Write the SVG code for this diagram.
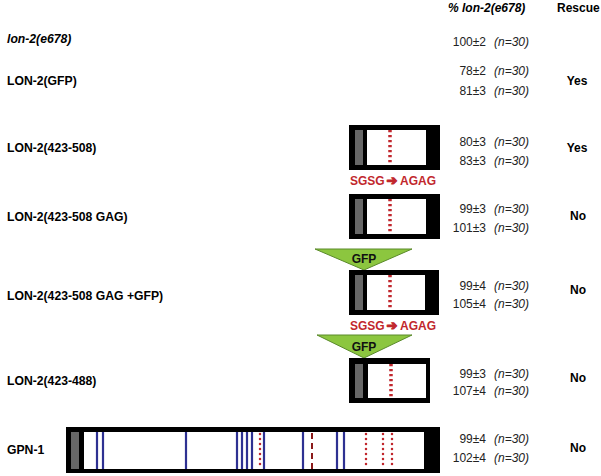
<svg xmlns="http://www.w3.org/2000/svg" width="601" height="476" viewBox="0 0 601 476">
<style>
text{font-family:"Liberation Sans",Arial,sans-serif;fill:#000}
.lab{font-size:12.2px;font-weight:bold}
.hd{font-size:12px;font-weight:bold}
.num{font-size:12px;text-anchor:end;fill:#222}
.n{font-size:12px;font-style:italic;fill:#222}
.res{font-size:12px;font-weight:bold;text-anchor:middle}
.mut{font-size:12px;font-weight:bold;fill:#c1272d}
.arr{font-family:"DejaVu Sans",sans-serif;font-weight:bold;font-size:13px;fill:#c1272d;stroke:#c1272d;stroke-width:1.1;stroke-linejoin:round}
.gfp{font-size:12px;font-weight:bold;text-anchor:middle;fill:#111}
.frame{fill:#000}
.inner{fill:#fff}
.gray{fill:#676767}
.rdash{stroke:#c1272d;stroke-width:3.5;stroke-dasharray:2.2 2.8;fill:none}
.rdot{stroke:#c1272d;stroke-width:2.5;stroke-linecap:round;stroke-dasharray:0 5;fill:none}
.blue{stroke:#2e3192;stroke-width:2.2;fill:none}
.brown{stroke:#8b1a1a;stroke-width:2;stroke-dasharray:6 4;fill:none}
.tri{fill:#8cc63f;stroke:#5a8a2a;stroke-width:1}
</style>

<g id="header">
<text class="hd" x="448" y="12" font-style="italic">% lon-2(e678)</text>
<text class="hd" x="557" y="12">Rescue</text>
</g>

<g id="row-e678">
<text class="lab" x="7" y="43" font-style="italic">lon-2(e678)</text>
<text class="num" x="486" y="46">100±2</text><text class="n" x="494" y="46">(n=30)</text>
</g>

<g id="row-gfp">
<text class="lab" x="7" y="85">LON-2(GFP)</text>
<text class="num" x="486" y="75">78±2</text><text class="n" x="494" y="75">(n=30)</text>
<text class="num" x="486" y="95">81±3</text><text class="n" x="494" y="95">(n=30)</text>
<text class="res" x="577" y="85">Yes</text>
</g>

<g id="row-423-508">
<text class="lab" x="7" y="152">LON-2(423-508)</text>
<rect class="frame" x="349" y="125" width="91" height="45"/>
<rect class="inner" x="367" y="130" width="59" height="35"/>
<rect class="gray" x="355" y="130" width="8" height="35"/>
<line class="rdash" x1="390" y1="130" x2="390" y2="165"/>
<text class="num" x="486" y="146">80±3</text><text class="n" x="494" y="146">(n=30)</text>
<text class="num" x="486" y="165">83±3</text><text class="n" x="494" y="165">(n=30)</text>
<text class="res" x="577" y="152">Yes</text>
<text class="mut" x="350" y="185">SGSG<tspan class="arr" x="386.5">➔</tspan><tspan x="400">AGAG</tspan></text>
</g>

<g id="row-gag">
<text class="lab" x="7" y="221">LON-2(423-508 GAG)</text>
<rect class="frame" x="349" y="194" width="91" height="45"/>
<rect class="inner" x="367" y="199" width="59" height="35"/>
<rect class="gray" x="355" y="199" width="8" height="35"/>
<line class="rdash" x1="390" y1="199" x2="390" y2="234"/>
<text class="num" x="486" y="213">99±3</text><text class="n" x="494" y="213">(n=30)</text>
<text class="num" x="486" y="232">101±3</text><text class="n" x="494" y="232">(n=30)</text>
<text class="res" x="578" y="220">No</text>
</g>

<g id="row-gag-gfp">
<text class="lab" x="7" y="300">LON-2(423-508 GAG +GFP)</text>
<polygon class="tri" points="315,249 412,249 364,270"/>
<text class="gfp" x="364" y="263">GFP</text>
<rect class="frame" x="349" y="270" width="90" height="45"/>
<rect class="inner" x="367" y="275" width="58" height="35"/>
<rect class="gray" x="355" y="275" width="8" height="35"/>
<line class="rdash" x1="390" y1="275" x2="390" y2="310"/>
<text class="num" x="486" y="290">99±4</text><text class="n" x="494" y="290">(n=30)</text>
<text class="num" x="486" y="308">105±4</text><text class="n" x="494" y="308">(n=30)</text>
<text class="res" x="578" y="294">No</text>
<text class="mut" x="350" y="330">SGSG<tspan class="arr" x="386.5">➔</tspan><tspan x="400">AGAG</tspan></text>
</g>

<g id="row-423-488">
<text class="lab" x="7" y="385">LON-2(423-488)</text>
<polygon class="tri" points="317,335 412,335 364,358"/>
<text class="gfp" x="364" y="351">GFP</text>
<rect class="frame" x="349" y="358" width="81" height="45"/>
<rect class="inner" x="368" y="364" width="58" height="34"/>
<rect class="gray" x="355" y="364" width="8" height="34"/>
<line class="rdash" x1="391" y1="364" x2="391" y2="398"/>
<text class="num" x="486" y="378">99±3</text><text class="n" x="494" y="378">(n=30)</text>
<text class="num" x="486" y="395">107±4</text><text class="n" x="494" y="395">(n=30)</text>
<text class="res" x="578" y="382">No</text>
</g>

<g id="row-gpn1">
<text class="lab" x="7" y="454">GPN-1</text>
<rect class="frame" x="66" y="427" width="374" height="46"/>
<rect class="inner" x="84" y="432" width="340" height="37"/>
<rect class="gray" x="71" y="432" width="8" height="37"/>
<g>
<line class="blue" x1="97" y1="432" x2="97" y2="469"/>
<line class="blue" x1="103" y1="432" x2="103" y2="469"/>
<line class="blue" x1="186" y1="432" x2="186" y2="469"/>
<line class="blue" x1="237" y1="432" x2="237" y2="469"/>
<line class="blue" x1="242" y1="432" x2="242" y2="469"/>
<line class="blue" x1="247" y1="432" x2="247" y2="469"/>
<line class="blue" x1="252" y1="432" x2="252" y2="469"/>
<line class="blue" x1="264" y1="432" x2="264" y2="469"/>
<line class="blue" x1="303" y1="432" x2="303" y2="469"/>
<line class="blue" x1="337" y1="432" x2="337" y2="469"/>
<line class="blue" x1="344" y1="432" x2="344" y2="469"/>
</g>
<line class="brown" x1="312" y1="433" x2="312" y2="469"/>
<line class="rdot" x1="260" y1="434" x2="260" y2="467"/>
<line class="rdot" x1="366" y1="434" x2="366" y2="467"/>
<line class="rdot" x1="383" y1="434" x2="383" y2="467"/>
<line class="rdot" x1="392" y1="434" x2="392" y2="467"/>
<text class="num" x="486" y="443">99±4</text><text class="n" x="494" y="443">(n=30)</text>
<text class="num" x="486" y="462">102±4</text><text class="n" x="494" y="462">(n=30)</text>
<text class="res" x="578" y="452">No</text>
</g>

<g id="connectors"></g>
</svg>
